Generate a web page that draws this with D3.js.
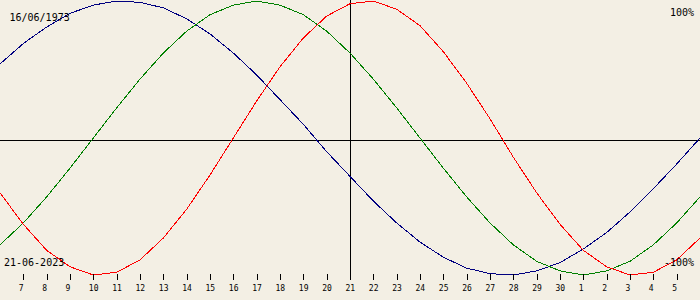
<!DOCTYPE html>
<html>
<head>
<meta charset="utf-8">
<script src="https://cdn.jsdelivr.net/npm/d3@7"></script>
<style>
  html, body { margin: 0; padding: 0; background: #f3efe4; }
  svg { display: block; }
  text { font-family: "DejaVu Sans Mono", monospace; fill: #000; }
</style>
</head>
<body>
<div id="chart"></div>
<script>
// biorhythm for birth date 16/06/1973, shown around 21-06-2023
const birthLabel = '16/06/1973';
const todayLabel = '21-06-2023';
const startDate = '2023-06-06';
const endDate = '2023-07-06';
const today = '2023-06-21';

// day-of-month tick labels, 7 June .. 5 July
const tickDays = [7, 8, 9, 10, 11, 12, 13, 14, 15, 16, 17, 18, 19, 20, 21, 22, 23, 24, 25, 26, 27, 28, 29, 30, 1, 2, 3, 4, 5];

// one value per day (percent), 6 June .. 6 July
const physical = [-40, -63, -82, -94, -100, -98, -89, -73, -52, -27, 0, 27, 52, 73, 89, 98, 100, 94, 82, 63, 40, 14, -14, -40, -63, -82, -94, -100, -98, -89, -73];
const emotional = [-78, -62, -43, -22, 0, 22, 43, 62, 78, 90, 97, 100, 97, 90, 78, 62, 43, 22, 0, -22, -43, -62, -78, -90, -97, -100, -97, -90, -78, -62, -43];
const intellectual = [54, 69, 81, 91, 97, 100, 99, 95, 87, 76, 62, 46, 28, 10, -10, -28, -46, -62, -76, -87, -95, -99, -100, -97, -91, -81, -69, -54, -37, -19, 0];

const width = 700;
const height = 300;
const plotHeight = 280;

const parse = d3.timeParse('%Y-%m-%d');
const days = d3.timeDay.range(parse(startDate), d3.timeDay.offset(parse(endDate), 1));

const svg = d3.select('#chart')
    .append('svg')
    .attr('width', width)
    .attr('height', height);

svg.append('rect')
    .attr('width', width)
    .attr('height', height)
    .attr('fill', '#f3efe4');

const x = d3.scaleTime()
    .domain([parse(startDate), parse(endDate)])
    .range([0, width]);

const y = d3.scaleLinear()
    .domain([-100, 100])
    .range([275, 1]);

// center cross
svg.append('line')
    .attr('x1', 0).attr('x2', width)
    .attr('y1', plotHeight / 2 + 0.5).attr('y2', plotHeight / 2 + 0.5)
    .attr('stroke', '#000')
    .attr('shape-rendering', 'crispEdges');

svg.append('line')
    .attr('x1', Math.round(x(parse(today))) + 0.5).attr('x2', Math.round(x(parse(today))) + 0.5)
    .attr('y1', 0).attr('y2', plotHeight)
    .attr('stroke', '#000')
    .attr('shape-rendering', 'crispEdges');

// curves
const line = d3.line()
    .x((d, i) => x(days[i]))
    .y(d => y(d));

const series = [
    { values: intellectual, color: '#000080' },
    { values: emotional, color: '#008000' },
    { values: physical, color: '#ff0000' }
];

series.forEach(s => {
    svg.append('path')
        .attr('d', line(s.values))
        .attr('fill', 'none')
        .attr('stroke', s.color)
        .attr('stroke-width', 1)
        .attr('shape-rendering', 'crispEdges');
});

// day axis
const tickDates = days.slice(1, 1 + tickDays.length);
const axis = d3.axisBottom(x)
    .tickValues(tickDates)
    .tickSize(6)
    .tickFormat((d, i) => tickDays[i]);

const ax = svg.append('g')
    .attr('transform', 'translate(0,274)')
    .call(axis);

ax.select('.domain').remove();
ax.selectAll('.tick line')
    .attr('stroke', '#000')
    .attr('shape-rendering', 'crispEdges');
ax.selectAll('.tick text')
    .attr('x', -5)
    .attr('y', 17)
    .attr('dy', 0)
    .attr('text-anchor', 'start')
    .style('font-family', '"DejaVu Sans Mono", monospace')
    .style('font-size', '8px')
    .attr('fill', '#000');

// labels
svg.append('text')
    .attr('x', 9.5).attr('y', 21)
    .style('font-size', '10px')
    .text(birthLabel);

svg.append('text')
    .attr('x', 4).attr('y', 266)
    .style('font-size', '10px')
    .text(todayLabel);

svg.append('text')
    .attr('x', 694).attr('y', 16)
    .attr('text-anchor', 'end')
    .style('font-size', '10px')
    .text('100%');

svg.append('text')
    .attr('x', 694).attr('y', 266)
    .attr('text-anchor', 'end')
    .style('font-size', '10px')
    .text('-100%');
</script>
</body>
</html>
